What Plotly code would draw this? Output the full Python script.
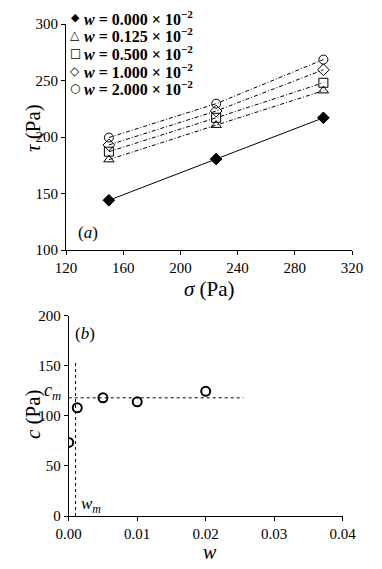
import plotly.graph_objects as go

# ---- data: panel (a) ----
sigma = [150, 225, 300]
w_labels = ["0.000", "0.125", "0.500", "1.000", "2.000"]
tau_w0000 = [144, 180.5, 217]
tau_w0125 = [180, 210.5, 241]
tau_w0500 = [187, 217, 248]
tau_w1000 = [193, 223, 259.5]
tau_w2000 = [199.5, 229.5, 268.5]
tau_series = [tau_w0000, tau_w0125, tau_w0500, tau_w1000, tau_w2000]
symbols = ["diamond", "triangle-up-open", "square-open", "diamond-open", "circle-open"]
legend_glyphs = ["◆", "△", "□", "◇", "○"]

# ---- data: panel (b) ----
w_vals = [0.0, 0.00125, 0.005, 0.01, 0.02]
c_vals = [73.5, 108, 118, 114, 124.5]
c_m = 118
w_m = 0.001
cm_line_end = 0.0255
wm_line_top = 154

FONT = "Liberation Serif"
W, H = 382, 569
OFF = 8  # default page body margin


def px(x):
    return (x - OFF) / W


def py(y):
    return 1 - (y - OFF) / H


fig = go.Figure()

for i, (lab, tau, sym) in enumerate(zip(w_labels, tau_series, symbols)):
    fig.add_trace(go.Scatter(
        x=sigma, y=tau, mode="lines", showlegend=False,
        line=dict(color="black", width=1, dash="solid" if i == 0 else "4px,2px,1px,2px"),
        xaxis="x", yaxis="y", hoverinfo="skip"))
for i, (lab, tau, sym) in enumerate(zip(w_labels, tau_series, symbols)):
    fig.add_trace(go.Scatter(
        x=sigma, y=tau, mode="markers", showlegend=False,
        name="w = " + lab + " × 10^-2",
        marker=dict(symbol=sym, size=9, color="black",
                    line=dict(color="black", width=1)),
        xaxis="x", yaxis="y"))

# panel (b)
fig.add_trace(go.Scatter(x=[0, cm_line_end], y=[c_m, c_m], mode="lines", showlegend=False,
                         line=dict(color="black", width=1, dash="dot"), xaxis="x2", yaxis="y2"))
fig.add_trace(go.Scatter(x=[w_m, w_m], y=[0, wm_line_top], mode="lines", showlegend=False,
                         line=dict(color="black", width=1, dash="dot"), xaxis="x2", yaxis="y2"))
fig.add_trace(go.Scatter(x=w_vals, y=c_vals, mode="markers", showlegend=False,
                         marker=dict(symbol="circle-open", size=9, color="black",
                                     line=dict(color="black", width=2)),
                         xaxis="x2", yaxis="y2"))

axis_common = dict(showline=True, linecolor="black", linewidth=1, ticks="outside",
                   ticklen=4, tickcolor="black", showgrid=False, zeroline=False,
                   automargin=False,
                   tickfont=dict(family=FONT, size=15, color="black"))

fig.update_layout(
    width=W, height=H,
    margin=dict(l=0, r=0, t=0, b=0),
    paper_bgcolor="white", plot_bgcolor="white",
    font=dict(family=FONT, color="black"),
    xaxis=dict(domain=[px(66), px(352)], range=[120, 320], dtick=40, tick0=120,
               anchor="y", **axis_common),
    yaxis=dict(domain=[py(250), py(24)], range=[100, 300], dtick=50, tick0=100,
               anchor="x", **axis_common),
    xaxis2=dict(domain=[px(68.7), px(342.7)], range=[0, 0.04], dtick=0.01, tickformat=".2f",
                anchor="y2", **axis_common),
    yaxis2=dict(domain=[py(516), py(315.7)], range=[0, 200], dtick=50,
                anchor="x2", **axis_common),
    showlegend=False,
)

ann = []


def A(text, x, y, size, family=FONT, xanchor="center", **kw):
    ann.append(dict(text=text, x=px(x), y=py(y), xref="paper", yref="paper",
                    xanchor=xanchor, yanchor="middle",
                    showarrow=False, font=dict(family=family, size=size, color="black"), **kw))


# legend drawn as text
legend_rows = [17.5, 35, 52.5, 70.5, 88]
for g, lab, yy in zip(legend_glyphs, w_labels, legend_rows):
    A(g, 75, yy, 12 if g != "◆" else 11, family="DejaVu Sans")
    A("<b><i>w</i> = " + lab + " × 10<sup>−2</sup></b>", 82, yy, 16, xanchor="left")

A("<i>σ</i> (Pa)", 210, 289, 21)
A("<i>τ</i> (Pa)", 33, 128, 21, textangle=-90)
A("<i>w</i>", 210, 552, 20)
A("<i>c</i> (Pa)", 33, 414, 21, textangle=-90)
A("(<i>a</i>)", 88, 233, 17)
A("(<i>b</i>)", 85, 333, 17)
A("<i>c</i><sub><i>m</i></sub>", 52, 391, 18)
A("<i>w</i><sub><i>m</i></sub>", 91, 505, 17)
fig.update_layout(annotations=ann)

fig.write_html("out.html")
